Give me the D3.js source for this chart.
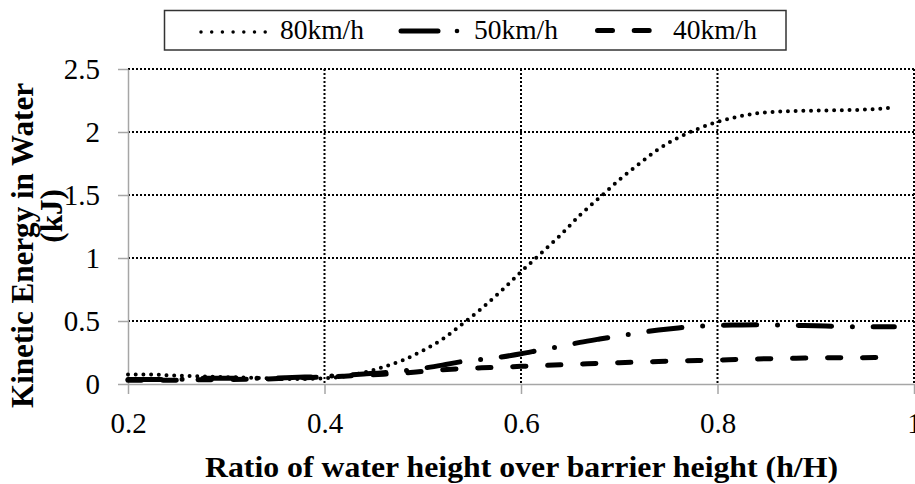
<!DOCTYPE html>
<html>
<head>
<meta charset="utf-8">
<script src="https://cdn.jsdelivr.net/npm/d3@7"></script>
<style>
  body { margin: 0; background: #fff; }
</style>
</head>
<body>
<div id="chart"></div>
<script>
// data
const ratio = [0.2, 0.22, 0.24, 0.26, 0.28, 0.3, 0.32, 0.34, 0.36, 0.38, 0.4, 0.42, 0.44, 0.46, 0.48, 0.5,
  0.52, 0.54, 0.56, 0.58, 0.6, 0.62, 0.64, 0.66, 0.68, 0.7, 0.72, 0.74, 0.76, 0.78, 0.8,
  0.82, 0.84, 0.86, 0.88, 0.9, 0.92, 0.94, 0.96, 0.98];
const ke80 = [0.075, 0.075, 0.07, 0.065, 0.06, 0.055, 0.05, 0.045, 0.04, 0.04, 0.045, 0.06, 0.09, 0.135, 0.19, 0.265,
  0.355, 0.475, 0.6, 0.74, 0.89, 1.035, 1.18, 1.34, 1.48, 1.62, 1.745, 1.865, 1.955, 2.025, 2.08,
  2.12, 2.148, 2.16, 2.167, 2.17, 2.172, 2.175, 2.182, 2.195];
const ke50 = [0.035, 0.035, 0.035, 0.04, 0.045, 0.045, 0.045, 0.045, 0.05, 0.055, 0.06, 0.07, 0.08, 0.09, 0.105, 0.125,
  0.15, 0.178, 0.195, 0.215, 0.24, 0.27, 0.298, 0.33, 0.357, 0.382, 0.407, 0.428, 0.445, 0.458, 0.465,
  0.468, 0.47, 0.468, 0.465, 0.462, 0.458, 0.455, 0.455, 0.455];
const ke40 = [0.03, 0.03, 0.03, 0.032, 0.034, 0.036, 0.038, 0.04, 0.045, 0.05, 0.055, 0.062, 0.07, 0.078, 0.087, 0.1,
  0.113, 0.122, 0.128, 0.133, 0.14, 0.146, 0.152, 0.158, 0.164, 0.169, 0.174, 0.179, 0.183, 0.187, 0.19,
  0.195, 0.199, 0.202, 0.204, 0.207, 0.208, 0.209, 0.21, 0.213];
const xTicks = [0.2, 0.4, 0.6, 0.8, 1];
const yTicks = [0, 0.5, 1, 1.5, 2, 2.5];
const seriesNames = ['80km/h', '50km/h', '40km/h'];

const W = 915, H = 484;
const plot = { left: 128, right: 914, top: 69, bottom: 384 };
const serif = "'Liberation Serif'";

const svg = d3.select('#chart').append('svg')
  .attr('width', W).attr('height', H);

const x = d3.scaleLinear().domain([0.2, 1]).range([plot.left, plot.right]);
const y = d3.scaleLinear().domain([0, 2.5]).range([plot.bottom, plot.top]);

// dotted gridlines
svg.append('g').selectAll('line')
  .data(yTicks.filter(d => d > 0))
  .enter().append('line')
    .attr('x1', plot.left).attr('x2', plot.right)
    .attr('y1', d => y(d)).attr('y2', d => y(d))
    .attr('stroke', '#000').attr('stroke-width', 2).attr('stroke-dasharray', '2,2');
svg.append('g').selectAll('line')
  .data(xTicks.filter(d => d > 0.2))
  .enter().append('line')
    .attr('x1', d => x(d)).attr('x2', d => x(d))
    .attr('y1', plot.top).attr('y2', plot.bottom)
    .attr('stroke', '#000').attr('stroke-width', 2).attr('stroke-dasharray', '2,2');

// axes
const xAxis = svg.append('g')
  .attr('transform', `translate(0,${plot.bottom})`)
  .call(d3.axisBottom(x).tickValues(xTicks).tickFormat(d3.format('')).tickSize(10).tickSizeOuter(0));
const yAxis = svg.append('g')
  .attr('transform', `translate(${plot.left},0)`)
  .call(d3.axisLeft(y).tickValues(yTicks).tickFormat(d3.format('')).tickSize(10).tickSizeOuter(0));

[xAxis, yAxis].forEach(g => {
  g.select('.domain').attr('stroke', '#a6a6a6').attr('stroke-width', 1.5);
  g.selectAll('.tick line').attr('stroke', '#a6a6a6').attr('stroke-width', 1.5);
  g.selectAll('.tick text').attr('fill', '#000')
    .style('font-family', serif).style('font-size', '29px');
});
xAxis.selectAll('.tick text').attr('y', 49).attr('dy', null);
yAxis.selectAll('.tick text').attr('x', -28).attr('dy', '0.33em');

// series
const line = d3.line().curve(d3.curveMonotoneX);
const series = [
  { vals: ke80, width: 4, dash: '0,7.7' },
  { vals: ke50, width: 5, dash: '33.3,20.8,0,20.8' },
  { vals: ke40, width: 5, dash: '13.3,21.7' }
];
series.forEach(s => {
  svg.append('path')
    .attr('d', line(ratio.map((r, i) => [x(r), y(s.vals[i])])))
    .attr('fill', 'none')
    .attr('stroke', '#000')
    .attr('stroke-width', s.width)
    .attr('stroke-linecap', 'round')
    .attr('stroke-dasharray', s.dash);
});

// legend
const legend = svg.append('g');
legend.append('rect')
  .attr('x', 164.5).attr('y', 10.5).attr('width', 621.5).attr('height', 39.5)
  .attr('fill', '#fff').attr('stroke', '#333').attr('stroke-width', 1.5);
legend.append('line') // dotted
  .attr('x1', 201).attr('x2', 266).attr('y1', 32).attr('y2', 32)
  .attr('stroke', '#000').attr('stroke-width', 3.5).attr('stroke-linecap', 'round')
  .attr('stroke-dasharray', '0,10.7');
legend.append('line') // dash-dot
  .attr('x1', 401).attr('x2', 438).attr('y1', 31).attr('y2', 31)
  .attr('stroke', '#000').attr('stroke-width', 5).attr('stroke-linecap', 'round');
legend.append('circle')
  .attr('cx', 457).attr('cy', 31).attr('r', 2.3).attr('fill', '#000');
legend.append('line') // dashed
  .attr('x1', 597.5).attr('x2', 650).attr('y1', 30.5).attr('y2', 30.5)
  .attr('stroke', '#000').attr('stroke-width', 5).attr('stroke-linecap', 'round')
  .attr('stroke-dasharray', '15,21.7');
legend.selectAll('text.lab')
  .data(seriesNames)
  .enter().append('text')
    .attr('class', 'lab')
    .attr('x', (d, i) => [280, 474, 673][i])
    .attr('y', 38.5)
    .attr('textLength', 84).attr('lengthAdjust', 'spacingAndGlyphs')
    .style('font-family', serif).style('font-size', '27px')
    .text(d => d);

// axis titles
svg.append('text')
  .attr('x', 521.5).attr('y', 477)
  .attr('text-anchor', 'middle')
  .attr('textLength', 633).attr('lengthAdjust', 'spacingAndGlyphs')
  .style('font-family', serif).style('font-size', '30px').style('font-weight', 'bold')
  .text('Ratio of water height over barrier height (h/H)');
svg.append('text')
  .attr('transform', 'translate(33,245.5) rotate(-90)')
  .attr('text-anchor', 'middle')
  .attr('textLength', 325).attr('lengthAdjust', 'spacingAndGlyphs')
  .style('font-family', serif).style('font-size', '31px').style('font-weight', 'bold')
  .text('Kinetic Energy in Water');
svg.append('text')
  .attr('transform', 'translate(62,216) rotate(-90)')
  .attr('text-anchor', 'middle')
  .style('font-family', serif).style('font-size', '31px').style('font-weight', 'bold')
  .text('(kJ)');
</script>
</body>
</html>
